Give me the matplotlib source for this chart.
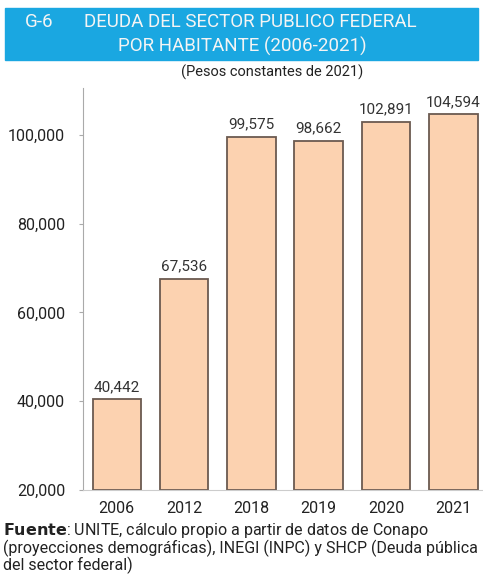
import matplotlib.pyplot as plt
from matplotlib.patches import Rectangle

plt.rcParams['font.family'] = ['Roboto', 'DejaVu Sans']

years = ['2006', '2012', '2018', '2019', '2020', '2021']
deuda = [40442, 67536, 99575, 98662, 102891, 104594]
etiquetas = ['40,442', '67,536', '99,575', '98,662', '102,891', '104,594']
yticks = [20000, 40000, 60000, 80000, 100000]
yticklabels = ['20,000', '40,000', '60,000', '80,000', '100,000']

fig = plt.figure(figsize=(4.83, 5.88), dpi=100)
ax = fig.add_axes([0.172, 0.1667, 0.828, 0.6833])

x = list(range(len(years)))
ax.bar(x, [d - 20000 for d in deuda], bottom=20000, width=0.72,
       color='#fcd2b0', edgecolor='#6b5a50', linewidth=1.3)
for xi, d, lab in zip(x, deuda, etiquetas):
    ax.text(xi, d + 1200, lab, ha='center', va='bottom', fontsize=11, color='#333333')

ax.set_xlim(-0.5, 5.44)
ax.set_ylim(20000, 110500)
ax.set_xticks(x)
ax.set_xticklabels(years, fontsize=11.5, color='#222222')
ax.set_yticks(yticks)
ax.set_yticklabels(yticklabels, fontsize=11.5, color='#222222')
ax.tick_params(axis='x', length=0, pad=8)
ax.tick_params(axis='y', length=3, color='#aaaaaa', pad=10)
for s in ['top', 'right']:
    ax.spines[s].set_visible(False)
ax.spines['left'].set_color('#aaaaaa')
ax.spines['bottom'].set_color('#cccccc')

# banner
fig.patches.append(Rectangle((5 / 483, 1 - 60 / 588), 473 / 483, 52 / 588,
                             transform=fig.transFigure, color='#1aa7e1', zorder=0))
fig.text(25 / 483, 1 - 22 / 588, 'G-6', color='#f4f4f4', fontsize=13.5, va='center')
fig.text(250 / 483, 1 - 22 / 588, 'DEUDA DEL SECTOR PUBLICO FEDERAL', color='#f4f4f4',
         fontsize=13.5, va='center', ha='center')
fig.text(242 / 483, 1 - 46 / 588, 'POR HABITANTE (2006-2021)', color='#f4f4f4',
         fontsize=13.5, va='center', ha='center')
fig.text(272 / 483, 1 - 72 / 588, '(Pesos constantes de 2021)', color='#222222',
         fontsize=10.5, va='center', ha='center')

# fuente
fig.text(3 / 483, 1 - 531 / 588, r'$\bf{Fuente}$: UNITE, cálculo propio a partir de datos de Conapo',
         fontsize=11.5, va='center', ha='left', color='#222222')
fig.text(3 / 483, 1 - 548 / 588, '(proyecciones demográficas), INEGI (INPC) y SHCP (Deuda pública',
         fontsize=11.5, va='center', ha='left', color='#222222')
fig.text(3 / 483, 1 - 565 / 588, 'del sector federal)',
         fontsize=11.5, va='center', ha='left', color='#222222')

fig.savefig('out.png', dpi=100)
